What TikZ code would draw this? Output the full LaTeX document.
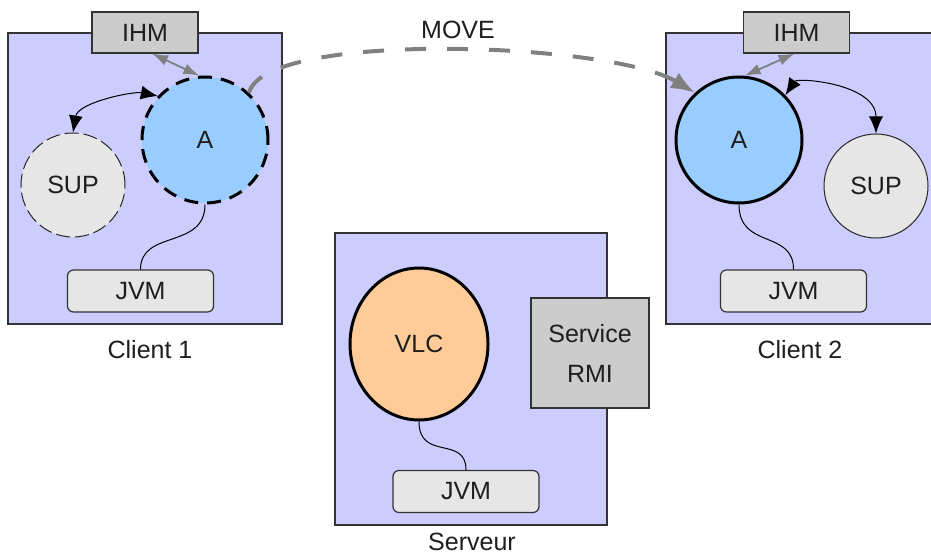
\documentclass[tikz,border=0pt]{standalone}
\usepackage{fontspec}
\setmainfont{Liberation Sans}
\usetikzlibrary{arrows.meta,shapes.geometric}

\definecolor{hostfill}{RGB}{204,204,255}
\definecolor{agentfill}{RGB}{153,204,255}
\definecolor{supfill}{RGB}{230,230,230}
\definecolor{ihmfill}{RGB}{204,204,204}
\definecolor{jvmfill}{RGB}{230,230,230}
\definecolor{vlcfill}{RGB}{255,204,153}
\definecolor{arrowgray}{RGB}{128,128,128}
\definecolor{inkgray}{RGB}{30,30,30}

\begin{document}
\begin{tikzpicture}[x=0.5pt,y=-0.5pt,
  every node/.style={font=\fontsize{12.5}{15}\selectfont, text=inkgray},
  host/.style 2 args={rectangle, draw=black!80, line width=0.8pt, fill=hostfill,
    minimum width=#1, minimum height=#2, inner sep=0pt},
  agent/.style={circle, fill=agentfill, draw=black, line width=1.5pt,
    minimum size=63pt, inner sep=0pt},
  sup/.style={circle, fill=supfill, draw=black!85, line width=0.5pt,
    minimum size=52pt, inner sep=0pt},
  vlc/.style={ellipse, fill=vlcfill, draw=black, line width=1.5pt,
    minimum width=69pt, minimum height=76pt, inner sep=0pt},
  ihm/.style={rectangle, fill=ihmfill, draw=black!80, line width=0.6pt,
    minimum width=53pt, minimum height=20.5pt, inner sep=0pt},
  jvm/.style={rectangle, rounded corners=3pt, fill=jvmfill, draw=black!80,
    line width=0.6pt, minimum width=73pt, minimum height=21pt, inner sep=0pt},
  rmi/.style={rectangle, fill=ihmfill, draw=black!80, line width=0.6pt,
    minimum width=59pt, minimum height=55pt, inner sep=0pt, align=center,
    font=\fontsize{12.5}{20}\selectfont},
  wire/.style={draw=black, line width=0.5pt},
  garrow/.style={draw=arrowgray, line width=0.9pt,
    {Latex[length=8pt,width=5.5pt]}-{Latex[length=8pt,width=5.5pt]}},
  barrow/.style={draw=black, line width=0.5pt,
    {Latex[length=8.5pt,width=7pt]}-{Latex[length=8.5pt,width=7pt]}},
  movearrow/.style={draw=arrowgray, line width=2pt,
    dash pattern=on 10.5pt off 10.5pt, -{Latex[length=12pt,width=9pt]}}
]
\useasboundingbox (0,0) rectangle (931,555);

% hosts
\node[host={137pt}{145.5pt}] (client1) at (145,178.5) {};
\node[host={135pt}{145.5pt}] (client2) at (801,178.5) {};
\node[host={136pt}{146pt}]   (server)  at (471,379) {};

% host captions
\node (cap1) at (150,350) {Client 1};
\node (cap2) at (800,350) {Client 2};
\node (cap3) at (472,542) {Serveur};

% client 1
\node[agent, dash pattern=on 7pt off 4.5pt] (a1) at (205,140) {A};
\node[sup, dash pattern=on 7pt off 2.5pt] (sup1) at (73,185) {SUP};
\node[ihm] (ihm1) at (145,32.5) {IHM};
\node[jvm] (jvm1) at (140.5,291) {JVM};

% client 2
\node[agent] (a2) at (739,140) {A};
\node[sup] (sup2) at (876,186) {SUP};
\node[ihm] (ihm2) at (796.5,32.5) {IHM};
\node[jvm] (jvm2) at (793.5,291) {JVM};

% server
\node[vlc] (vlc) at (419,344) {VLC};
\node[rmi] (rmi) at (590,353) {Service\\RMI};
\node[jvm] (jvm3) at (466,491.5) {JVM};

% agents sitting on their virtual machines
\draw[wire] (a1.south) .. controls +(0,45) and +(0,-40) .. (jvm1.north);
\draw[wire] (a2.south) .. controls +(0,45) and +(0,-40) .. (jvm2.north);
\draw[wire] (vlc.south) .. controls +(0,40) and +(0,-35) .. (jvm3.north);

% user interface links
\draw[garrow] ([xshift=3.5pt]ihm1.south) -- (a1.95);
\draw[garrow] ([xshift=-1pt]ihm2.south) -- (a2.85);

% supervision links
\draw[barrow] (sup1.north) .. controls +(5,-30) and +(-25,-5) .. (a1.137);
\draw[barrow] (a2.44) .. controls +(12,-18) and +(0,-50) .. (sup2.north);

% migration
\draw[movearrow] (a1.47) .. controls (265,30) and (610,42) .. (a2.133);
\node (movelabel) at (458,30) {MOVE};
\end{tikzpicture}
\end{document}
